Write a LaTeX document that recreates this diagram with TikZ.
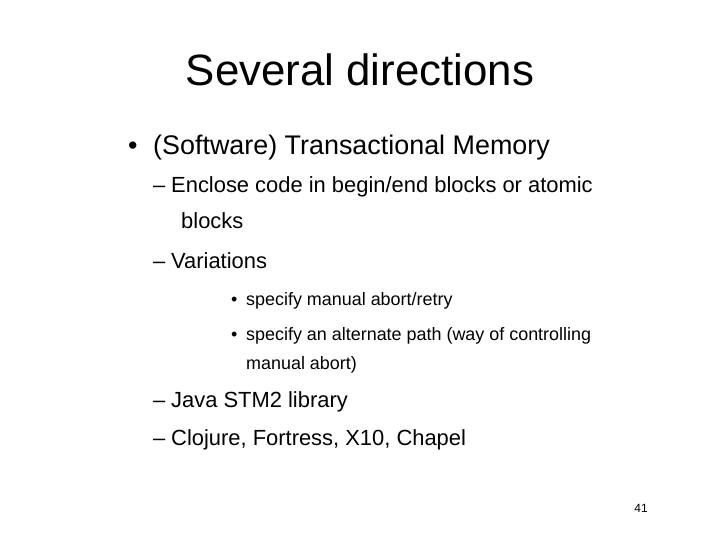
\documentclass[tikz,border=0pt]{standalone}
\usepackage{fontspec}
\setmainfont{Liberation Sans}
\begin{document}
\begin{tikzpicture}[x=1bp,y=-1bp,
  t/.style={anchor=west,inner sep=0pt,text height=0.72em,text depth=0.2em},
  l1/.style={t,font=\fontsize{27}{32}\selectfont},
  l2/.style={t,font=\fontsize{22}{28}\selectfont},
  l3/.style={t,font=\fontsize{18}{24}\selectfont}]
\useasboundingbox (0,0) rectangle (720,540);
\node[inner sep=0pt,font=\fontsize{44}{48}\selectfont] (title) at (360,70) {Several directions};
\node[l1] (m1) at (128,152) {•};
\node[l1] (b1) at (153,152) {(Software) Transactional Memory};
\node[l2] (n1) at (153,190) {–};
\node[l2] (c1) at (171,190) {Enclose code in begin/end blocks or atomic};
\node[l2] (c1b) at (181,226) {blocks};
\node[l2] (n2) at (153,266) {–};
\node[l2] (c2) at (171,266) {Variations};
\node[l3] (o1) at (231,303) {•};
\node[l3] (d1) at (246,303) {specify manual abort/retry};
\node[l3] (o2) at (231,338) {•};
\node[l3] (d2) at (246,338) {specify an alternate path (way of controlling};
\node[l3] (d2b) at (246,367) {manual abort)};
\node[l2] (n3) at (153,405) {–};
\node[l2] (c3) at (171,405) {Java STM2 library};
\node[l2] (n4) at (153,443) {–};
\node[l2] (c4) at (171,443) {Clojure, Fortress, X10, Chapel};
\node[inner sep=0pt,font=\fontsize{12}{14}\selectfont] (num) at (641,508) {41};
\end{tikzpicture}
\end{document}
